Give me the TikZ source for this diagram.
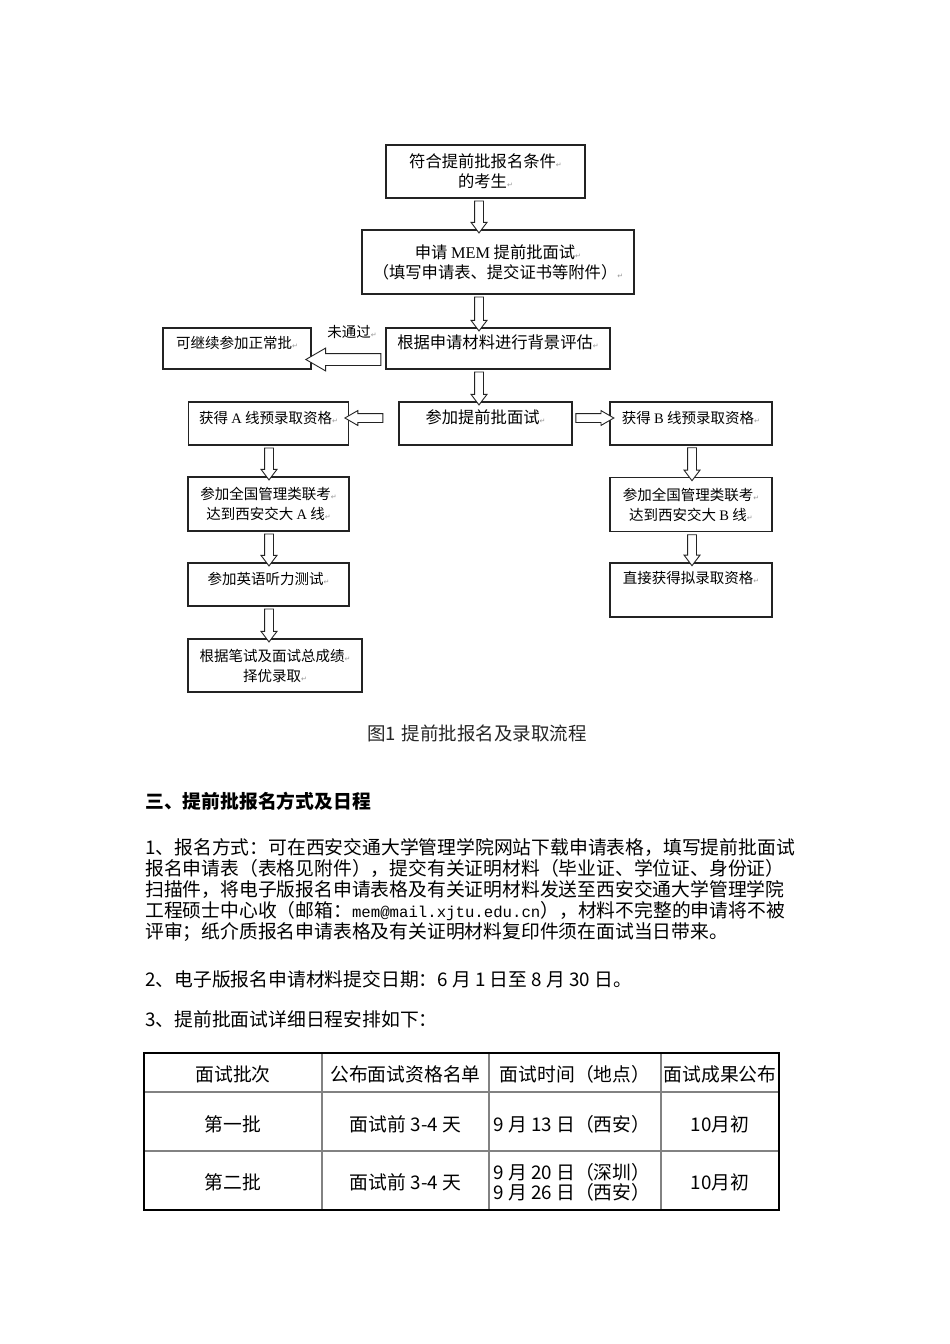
\documentclass[tikz,border=0pt]{standalone}
\usepackage{fontspec}
\usepackage{xcolor}
\usepackage{tikz}
\usetikzlibrary{shapes.arrows}
\setmainfont{Noto Sans CJK SC}
\newfontfamily\markfont{DejaVu Sans}
\newfontfamily\romanfont{Liberation Serif}
\newfontfamily\mailfont{Liberation Mono}
\definecolor{boxline}{RGB}{35,35,35}
\definecolor{gridline}{RGB}{130,130,130}
\definecolor{markgray}{RGB}{150,150,150}
\newcommand{\retmark}{{\color{markgray}\markfont\fontsize{7}{7}\selectfont ↵}}

\begin{document}
\begin{tikzpicture}[x=1pt, y=-1pt,
  flowbox/.style={draw=boxline, line width=1.1pt, align=center, inner sep=0pt},
  bigfont/.style={font=\fontsize{16.3}{20}\selectfont},
  smallfont/.style={font=\fontsize{14.5}{20}\selectfont},
  raised/.style={text height=8pt, text depth=9pt},
  hollow/.style={single arrow, draw=boxline, fill=white, line width=0.9pt, single arrow head indent=0pt},
  downarrow/.style={hollow, shape border rotate=270, inner sep=4pt, single arrow head extend=3.5pt, single arrow tip angle=74, minimum height=32pt},
  sidearrow/.style={hollow, inner sep=4pt, single arrow head extend=3pt, single arrow tip angle=60, minimum height=38pt},
  bigarrow/.style={hollow, shape border rotate=180, inner sep=5.5pt, single arrow head extend=5.5pt, single arrow tip angle=60, minimum height=75pt},
  body/.style={font=\fontsize{18.8}{21}\selectfont, inner sep=0pt, anchor=west, align=left},
  cell/.style={font=\fontsize{18.8}{20}\selectfont, inner sep=0pt, align=center}]
% Page
\path[fill=white, use as bounding box] (0,0) rectangle (950,1344);

% Nodes
\node[flowbox, bigfont, minimum width=199pt, minimum height=53pt] (cond) at (485.5,171.5) {符合提前批报名条件\retmark\\的考生\retmark};
\node[flowbox, bigfont, minimum width=272pt, minimum height=64pt] (apply) at (498,262) {申请 {\romanfont MEM} 提前批面试\retmark\\（填写申请表、提交证书等附件）\retmark};
\node[flowbox, bigfont, raised, minimum width=224pt, minimum height=41pt] (assess) at (498,348.5) {根据申请材料进行背景评估\retmark};
\node[flowbox, smallfont, raised, minimum width=148pt, minimum height=41pt] (normal) at (237,348.5) {可继续参加正常批\retmark};
\node[smallfont, inner sep=0pt] (failnote) at (352,332) {未通过\retmark};
\node[flowbox, bigfont, raised, minimum width=173pt, minimum height=43pt] (interview) at (485.5,423.5) {参加提前批面试\retmark};
\node[flowbox, smallfont, raised, minimum width=160pt, minimum height=43pt] (aget) at (268.5,423.5) {获得 {\romanfont A} 线预录取资格\retmark};
\node[flowbox, smallfont, raised, minimum width=162pt, minimum height=43pt] (bget) at (691,423.5) {获得 {\romanfont B} 线预录取资格\retmark};
\node[flowbox, smallfont, minimum width=161pt, minimum height=54pt] (aexam) at (268.5,504) {参加全国管理类联考\retmark\\达到西安交大 {\romanfont A} 线\retmark};
\node[flowbox, smallfont, minimum width=162pt, minimum height=54pt] (bexam) at (691,504.5) {参加全国管理类联考\retmark\\达到西安交大 {\romanfont B} 线\retmark};
\node[flowbox, smallfont, raised, minimum width=161pt, minimum height=43pt] (listen) at (268.5,584.5) {参加英语听力测试\retmark};
\node[flowbox, smallfont, minimum width=174pt, minimum height=53pt] (admit) at (275,665.5) {根据笔试及面试总成绩\retmark\\择优录取\retmark};
\node[flowbox, smallfont, text height=8pt, text depth=21pt, minimum width=162pt, minimum height=54pt] (direct) at (691,590) {直接获得拟录取资格\retmark};

\coordinate (midline) at (479,0);
\coordinate (aline) at (269,0);
\coordinate (bline) at (692,0);

% Arrows
\path (midline |- cond.south) -- (midline |- apply.north) node[downarrow, midway] (c2a) {};
\path (midline |- apply.south) -- (midline |- assess.north) node[downarrow, midway, minimum height=34pt] (a2s) {};
\path (midline |- assess.south) -- (midline |- interview.north) node[downarrow, midway, minimum height=33pt] (s2i) {};
\path ([yshift=-11pt]assess.west) -- ([yshift=-11pt]normal.east) node[bigarrow, midway] (fail) {};
\path ([xshift=-12pt, yshift=5.5pt]interview.west) -- ([yshift=5.5pt]aget.east) node[sidearrow, shape border rotate=180, midway] (i2a) {};
\path ([yshift=5.5pt]interview.east) -- ([yshift=5.5pt]bget.west) node[sidearrow, midway] (i2b) {};
\path (aline |- aget.south) -- (aline |- aexam.north) node[downarrow, midway] (a1) {};
\path (aline |- aexam.south) -- (aline |- listen.north) node[downarrow, midway] (a2) {};
\path (aline |- listen.south) -- (aline |- admit.north) node[downarrow, midway, minimum height=33pt] (a3) {};
\path (bline |- bget.south) -- (bline |- bexam.north) node[downarrow, midway, minimum height=33pt] (b1) {};
\path (bline |- bexam.south) -- (bline |- direct.north) node[downarrow, midway, minimum height=31pt] (b2) {};

% Caption and text
\node[font=\fontsize{18.5}{20}\selectfont, text=black!85, inner sep=0pt] (caption) at (477,733) {图1\hspace{6pt}提前批报名及录取流程};
\node[body, font=\fontsize{18.8}{21}\selectfont\bfseries] (heading) at (145,801) {三、提前批报名方式及日程};
\node[body] (para1) at (145,890) {1、报名方式：可在西安交通大学管理学院网站下载申请表格，填写提前批面试\\
报名申请表（表格见附件），提交有关证明材料（毕业证、学位证、身份证）\\
扫描件，将电子版报名申请表格及有关证明材料发送至西安交通大学管理学院\\
工程硕士中心收（邮箱：{\mailfont\fontsize{15.7}{21}\selectfont mem@mail.xjtu.edu.cn}），材料不完整的申请将不被\\
评审；纸介质报名申请表格及有关证明材料复印件须在面试当日带来。};
\node[body] (para2) at (145,979) {2、电子版报名申请材料提交日期：6 月 1 日至 8 月 30 日。};
\node[body] (para3) at (145,1019) {3、提前批面试详细日程安排如下：};

% Table
\draw[gridline, line width=1.6pt] (144,1092) -- (779,1092) (144,1151) -- (779,1151)
  (322,1053) -- (322,1210) (489,1053) -- (489,1210) (661,1053) -- (661,1210);
\draw[black, line width=1.6pt] (144,1053) rectangle (779,1210);
\node[cell] (h1) at (233,1074) {面试批次};
\node[cell] (h2) at (405.5,1074) {公布面试资格名单};
\node[cell] (h3) at (575,1074) {面试时间（地点）};
\node[cell] (h4) at (720,1074) {面试成果公布};
\node[cell] (r1c1) at (233,1124) {第一批};
\node[cell] (r1c2) at (405.5,1124) {面试前 3-4 天};
\node[cell] (r1c3) at (572,1124) {9 月 13 日（西安）};
\node[cell] (r1c4) at (720,1124) {10月初};
\node[cell] (r2c1) at (233,1182) {第二批};
\node[cell] (r2c2) at (405.5,1182) {面试前 3-4 天};
\node[cell] (r2c3) at (572,1182) {9 月 20 日（深圳）\\9 月 26 日（西安）};
\node[cell] (r2c4) at (720,1182) {10月初};
\end{tikzpicture}
\end{document}
